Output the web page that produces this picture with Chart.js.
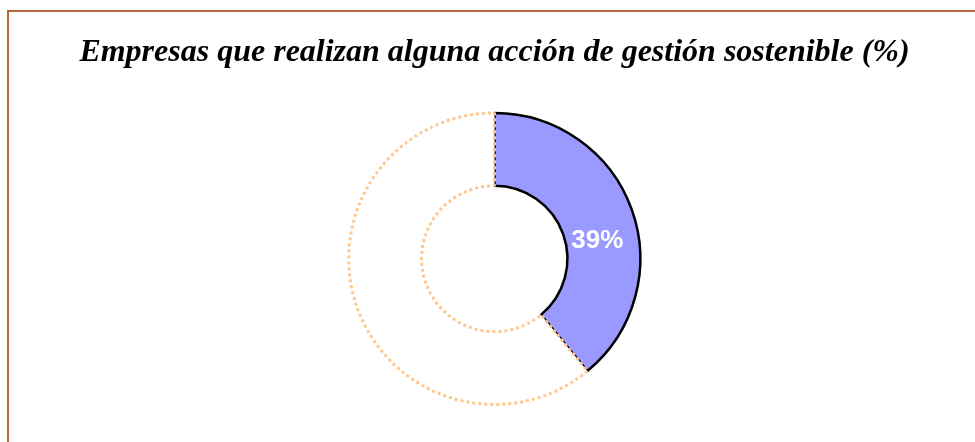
<!DOCTYPE html>
<html>
<head>
<meta charset="utf-8">
<script src="https://cdn.jsdelivr.net/npm/chart.js@4/dist/chart.umd.min.js"></script>
<style>
  html, body { margin: 0; padding: 0; background: #fff; }
  #wrap { position: relative; width: 975px; height: 442px; overflow: hidden; }
  #frame {
    position: absolute; left: 7px; top: 10px;
    width: 1100px; height: 600px;
    border: 2px solid #B5683C;
  }
  #chart { position: absolute; left: 0; top: 0; }
</style>
</head>
<body>
<div id="wrap">
  <div id="frame"></div>
  <canvas id="chart" width="975" height="442"></canvas>
</div>
<script>
// Datos
const titulo = 'Empresas que realizan alguna acción de gestión sostenible (%)';
const categorias = ['Realizan alguna acción', 'No realizan'];
const valores = [39, 61];
const colores = ['#9999FF', '#FFFFFF'];
const bordes = ['#000000', '#FFC890'];

// etiqueta de porcentaje sobre la porción azul
const etiquetaPlugin = {
  id: 'etiqueta',
  afterDatasetsDraw(chart) {
    const arc = chart.getDatasetMeta(0).data[0];
    if (!arc) return;
    const pos = arc.tooltipPosition();
    const ctx = chart.ctx;
    ctx.save();
    ctx.fillStyle = '#FFFFFF';
    ctx.font = 'bold 26px "Liberation Sans", Arial, sans-serif';
    ctx.textAlign = 'center';
    ctx.textBaseline = 'middle';
    ctx.fillText(valores[0] + '%', pos.x, pos.y + 19);
    ctx.restore();
  }
};

new Chart(document.getElementById('chart'), {
  type: 'doughnut',
  data: {
    labels: categorias,
    datasets: [{
      data: valores,
      backgroundColor: colores,
      borderColor: bordes,
      borderWidth: [2.5, 3],
      borderDash: (c) => c.dataIndex === 1 ? [3, 3] : [],
      hoverOffset: 0
    }]
  },
  options: {
    responsive: false,
    animation: false,
    cutout: '50%',
    layout: { padding: { top: 20, bottom: 36, left: 14, right: 0 } },
    plugins: {
      legend: { display: false },
      tooltip: { enabled: false },
      title: {
        display: true,
        text: titulo,
        color: '#000000',
        font: { family: '"Liberation Serif", "Times New Roman", serif', size: 32, weight: 'bold', style: 'italic' },
        padding: { top: 14, bottom: 39 }
      }
    }
  },
  plugins: [etiquetaPlugin]
});
</script>
</body>
</html>
